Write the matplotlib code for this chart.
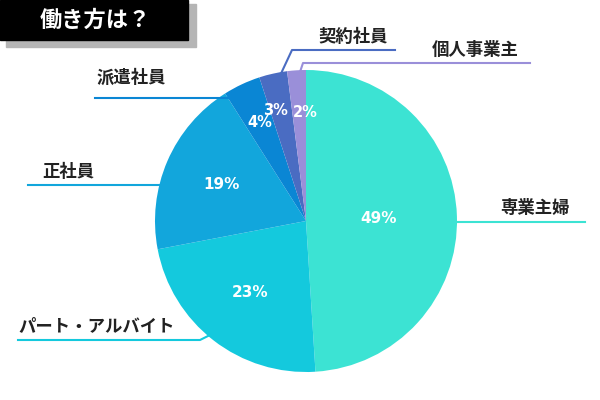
import matplotlib.pyplot as plt
import numpy as np

plt.rcParams['font.family'] = 'Noto Sans CJK JP'

labels = ['専業主婦', 'パート・アルバイト', '正社員', '派遣社員', '契約社員', '個人事業主']
values = [49, 23, 19, 4, 3, 2]
colors = ['#3ce3d3', '#14c9dd', '#12a6dc', '#0a86d4', '#4a6cc2', '#9a8fd9']

fig = plt.figure(figsize=(6, 4), dpi=100)
ax = fig.add_axes([0, 0, 1, 1])

cx, cy, r = 306, 179, 151
wedges, _ = ax.pie(values, colors=colors, startangle=90, counterclock=False,
                   center=(cx, cy), radius=r, frame=True)
ax.set_xlim(0, 600)
ax.set_ylim(0, 400)
ax.set_aspect('equal')
ax.axis('off')

# percent labels (distance from centre, angular nudge in degrees)
pct_dist = [0.48, 0.6, 0.61, 0.72, 0.76, 0.72]
pct_nudge = [0, 0, 0, 0, 3, -3]
for w, v, d, n in zip(wedges, values, pct_dist, pct_nudge):
    a = np.deg2rad((w.theta1 + w.theta2) / 2 + n)
    ax.text(cx + d * r * np.cos(a), cy + d * r * np.sin(a), f'{v}%',
            color='white', fontsize=10.5 if v < 5 else 11, fontweight='bold',
            ha='center', va='center', family='Liberation Sans Narrow' if v < 5 else 'DejaVu Sans')

# leader lines: (points in image coords), label position
leaders = [
    ([(455, 222), (585, 222)], (500, 208)),
    ([(210, 335), (200, 340), (18, 340)], (18, 326)),
    ([(165, 185), (28, 185)], (42, 172)),
    ([(245, 107), (233, 98), (95, 98)], (97, 78)),
    ([(278, 80), (292, 50), (395, 50)], (318, 37)),
    ([(298, 78), (303, 63), (530, 63)], (432, 50)),
]
for (pts, (lx, ly)), lab, c in zip(leaders, labels, colors):
    xs = [p[0] for p in pts]
    ys = [400 - p[1] for p in pts]
    ax.plot(xs, ys, color=c, lw=1.5)
    ax.text(lx, 400 - ly, lab, fontsize=12.5, fontweight='bold',
            ha='left', va='center', color='#222222')

# title box with shadow
ax.add_patch(plt.Rectangle((6, 400 - 47), 190, 43, color='#b5b5b5', zorder=3))
ax.add_patch(plt.Rectangle((0, 400 - 40), 188, 40, color='black', zorder=4))
ax.text(95, 400 - 20, '働き方は？', color='white', fontsize=16, fontweight='bold',
        ha='center', va='center', zorder=5)

fig.savefig('out.png', dpi=100)
